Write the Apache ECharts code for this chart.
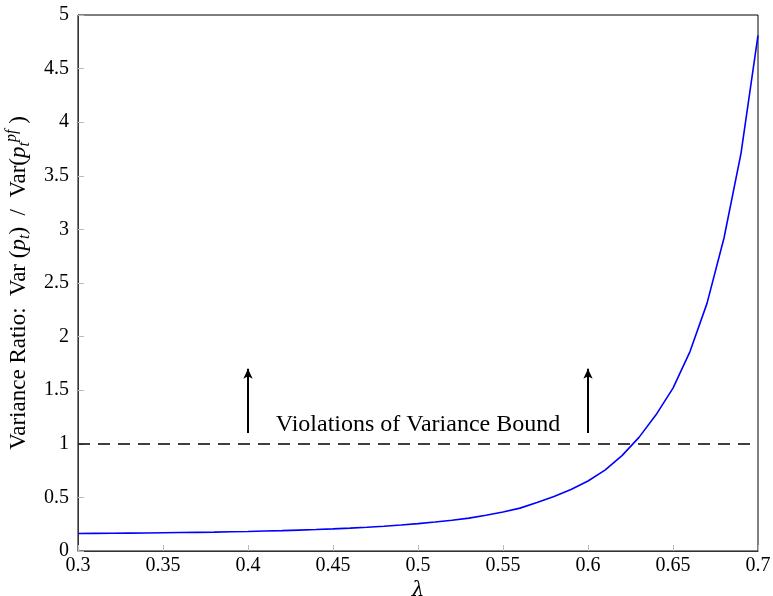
<!DOCTYPE html>
<html>
<head>
<meta charset="utf-8">
<script src="https://cdn.jsdelivr.net/npm/echarts@6/dist/echarts.min.js"></script>
<style>
  html, body { margin: 0; padding: 0; background: #fff; }
  #chart { width: 773px; height: 596px; }
</style>
</head>
<body>
<div id="chart"></div>
<script>
// lambda grid and variance ratio
const lambda = [0.30, 0.31, 0.32, 0.33, 0.34, 0.35, 0.36, 0.37, 0.38, 0.39,
                0.40, 0.41, 0.42, 0.43, 0.44, 0.45, 0.46, 0.47, 0.48, 0.49,
                0.50, 0.51, 0.52, 0.53, 0.54, 0.55, 0.56, 0.57, 0.58, 0.59,
                0.60, 0.61, 0.62, 0.63, 0.64, 0.65, 0.66, 0.67, 0.68, 0.69, 0.70];
const ratio = [0.163, 0.164, 0.165, 0.167, 0.168, 0.170, 0.172, 0.174, 0.176, 0.179,
               0.182, 0.186, 0.190, 0.195, 0.200, 0.206, 0.213, 0.221, 0.231, 0.242,
               0.255, 0.270, 0.287, 0.307, 0.333, 0.364, 0.400, 0.452, 0.508, 0.573,
               0.653, 0.755, 0.890, 1.060, 1.270, 1.520, 1.860, 2.310, 2.920, 3.710, 4.810];

const bound = 1;
const arrowX = [0.4, 0.6];
const arrowFrom = 1.1;
const arrowTo = 1.7;
const noteText = 'Violations of Variance Bound';
const notePos = [0.5, 1.18];

const serif = '"Liberation Serif", "DejaVu Serif", serif';

const chart = echarts.init(document.getElementById('chart'));

chart.setOption({
  animation: false,
  backgroundColor: '#fff',
  grid: {
    left: 78, right: 15, top: 15, bottom: 45,
    containLabel: false,
    outerBoundsMode: 'none',
    show: true, borderColor: '#000', borderWidth: 1
  },
  xAxis: {
    type: 'value',
    min: 0.3, max: 0.7, interval: 0.05,
    name: 'λ',
    nameLocation: 'middle',
    nameGap: 25,
    nameTextStyle: { fontFamily: '"DejaVu Serif", serif', fontSize: 20, fontStyle: 'italic', color: '#000' },
    axisLine: { lineStyle: { color: '#333', width: 1 } },
    axisTick: { inside: true, length: 6, lineStyle: { color: '#bbb' } },
    axisLabel: { fontFamily: serif, fontSize: 20, color: '#000', margin: 5 },
    splitLine: { show: false }
  },
  yAxis: {
    type: 'value',
    min: 0, max: 5, interval: 0.5,
    name: '{n|Variance Ratio:  Var (}{i|p}{sb|t}{n|)  /  Var(}{i|p}{sb|t}{sp|pf}{n| )}',
    nameLocation: 'middle',
    nameRotate: 90,
    nameGap: 45,
    nameTextStyle: {
      rich: {
        n: { fontFamily: serif, fontSize: 23, color: '#000', lineHeight: 29 },
        i: { fontFamily: serif, fontSize: 23, fontStyle: 'italic', color: '#000', lineHeight: 29 },
        sb: { fontFamily: serif, fontSize: 16, fontStyle: 'italic', color: '#000', lineHeight: 29, verticalAlign: 'bottom' },
        sp: { fontFamily: serif, fontSize: 16, fontStyle: 'italic', color: '#000', lineHeight: 29, verticalAlign: 'top' }
      }
    },
    axisLine: { lineStyle: { color: '#333', width: 1 } },
    axisTick: { inside: true, length: 6, lineStyle: { color: '#bbb' } },
    axisLabel: { fontFamily: serif, fontSize: 20, color: '#000', margin: 9 },
    splitLine: { show: false }
  },
  series: [
    {
      type: 'line',
      data: lambda.map((x, i) => [x, ratio[i]]),
      showSymbol: false,
      lineStyle: { color: '#0000ff', width: 1.6 },
      z: 3,
      markLine: {
        silent: true,
        symbol: 'none',
        label: { show: false },
        lineStyle: { color: '#000', type: [12, 8], width: 1.6 },
        data: [{ yAxis: bound }]
      }
    },
    {
      type: 'line',
      data: [],
      markLine: {
        silent: true,
        symbol: ['none', 'arrow'],
        symbolSize: [7, 10],
        label: { show: false },
        lineStyle: { color: '#000', type: 'solid', width: 2 },
        data: arrowX.map(x => [{ coord: [x, arrowFrom] }, { coord: [x, arrowTo] }])
      }
    },
    {
      type: 'scatter',
      data: [notePos],
      symbolSize: 0,
      silent: true,
      label: {
        show: true,
        position: 'inside',
        formatter: noteText,
        fontFamily: serif,
        fontSize: 24,
        color: '#000',
        opacity: 1
      }
    }
  ]
});
</script>
</body>
</html>
